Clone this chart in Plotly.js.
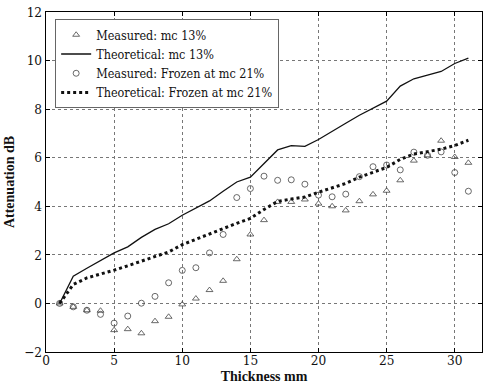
<!DOCTYPE html>
<html>
<head>
<meta charset="utf-8">
<script src="https://cdn.plot.ly/plotly-3.0.1.min.js"></script>
<style>
  html, body { margin: 0; padding: 0; background: #fff; }
  #chart { width: 485px; height: 384px; }
</style>
</head>
<body>
<div id="chart"></div>
<script>
// Sample thickness (mm)
const thickness = [1,2,3,4,5,6,7,8,9,10,11,12,13,14,15,16,17,18,19,20,21,22,23,24,25,26,27,28,29,30,31];

// Measured attenuation, mc 13% (dB)
const measuredMc13 = [0,-0.14,-0.28,-0.3,-1.1,-1.06,-1.23,-0.73,-0.55,-0.04,0.2,0.55,0.93,1.82,2.84,3.43,4.18,4.18,4.28,4.11,4.0,3.83,4.21,4.49,4.64,5.07,5.88,6.1,6.7,6.03,5.79];

// Theoretical attenuation, mc 13% (dB)
const theoreticalMc13 = [0,1.12,1.45,1.78,2.08,2.33,2.72,3.05,3.28,3.63,3.92,4.22,4.62,5.0,5.2,5.75,6.32,6.5,6.47,6.75,7.1,7.42,7.75,8.05,8.33,8.95,9.25,9.4,9.55,9.88,10.1];

// Measured attenuation, frozen at mc 21% (dB)
const measuredFrozen = [0,-0.14,-0.28,-0.45,-0.81,-0.52,0.01,0.29,0.85,1.36,1.47,2.08,2.84,4.36,4.73,5.24,5.07,5.09,4.91,4.46,4.39,4.5,5.22,5.63,5.7,5.5,6.23,6.1,6.24,5.39,4.62];

// Theoretical attenuation, frozen at mc 21% (dB)
const theoreticalFrozen = [0,0.78,1.05,1.2,1.37,1.55,1.75,1.93,2.12,2.42,2.65,2.88,3.08,3.3,3.5,3.87,4.2,4.3,4.38,4.58,4.76,4.94,5.2,5.4,5.6,5.93,6.15,6.25,6.35,6.5,6.72];

const seriesNames = [
  'Measured: mc 13%',
  'Theoretical: mc 13%',
  'Measured: Frozen at mc 21%',
  'Theoretical: Frozen at mc 21%'
];

const serifText = 'DejaVu Serif Condensed';
const serifTitle = 'Liberation Serif';

const traces = [
  {
    x: thickness, y: measuredMc13, name: seriesNames[0],
    type: 'scatter', mode: 'markers',
    marker: { symbol: 'triangle-up-open', size: 6, color: '#444', line: { width: 0.8, color: '#444' } }
  },
  {
    x: thickness, y: theoreticalMc13, name: seriesNames[1],
    type: 'scatter', mode: 'lines',
    line: { color: '#111', width: 1.3 }
  },
  {
    x: thickness, y: measuredFrozen, name: seriesNames[2],
    type: 'scatter', mode: 'markers',
    marker: { symbol: 'circle-open', size: 6, color: '#444', line: { width: 0.8, color: '#444' } }
  },
  {
    x: thickness, y: theoreticalFrozen, name: seriesNames[3],
    type: 'scatter', mode: 'lines',
    line: { color: '#111', width: 3, dash: 'dot' }
  }
];

const axisCommon = {
  showline: true, linecolor: '#000', linewidth: 1.2, mirror: 'ticks',
  ticks: 'inside', ticklen: 4, tickcolor: '#000',
  showgrid: true, gridcolor: '#777', gridwidth: 1, griddash: 'dot',
  zeroline: false,
  tickfont: { family: serifText, size: 13.5, color: '#111' }
};

const layout = {
  width: 485, height: 384,
  margin: { l: 46, r: 3, t: 12, b: 32 },
  paper_bgcolor: '#fff', plot_bgcolor: '#fff',
  font: { family: serifTitle, size: 14, color: '#111' },
  showlegend: true,
  legend: {
    x: 0.021, y: 0.979, xanchor: 'left', yanchor: 'top',
    bgcolor: '#fff', bordercolor: '#666', borderwidth: 1,
    font: { family: serifText, size: 12.5, color: '#111' },
    tracegroupgap: 0, itemwidth: 30
  },
  xaxis: Object.assign({}, axisCommon, {
    range: [0, 32], tick0: 0, dtick: 5,
    ticklabelstandoff: -4,
    title: { text: '<b>Thickness mm</b>', font: { family: serifTitle, size: 14, color: '#111' }, standoff: 3 },
    automargin: false
  }),
  yaxis: Object.assign({}, axisCommon, {
    range: [-2, 12], tick0: -2, dtick: 2,
    title: { text: '<b>Attenuation dB</b>', font: { family: serifTitle, size: 14, color: '#111' }, standoff: 6 },
    automargin: false
  })
};

Plotly.newPlot('chart', traces, layout, { displayModeBar: false, staticPlot: true });
</script>
</body>
</html>
